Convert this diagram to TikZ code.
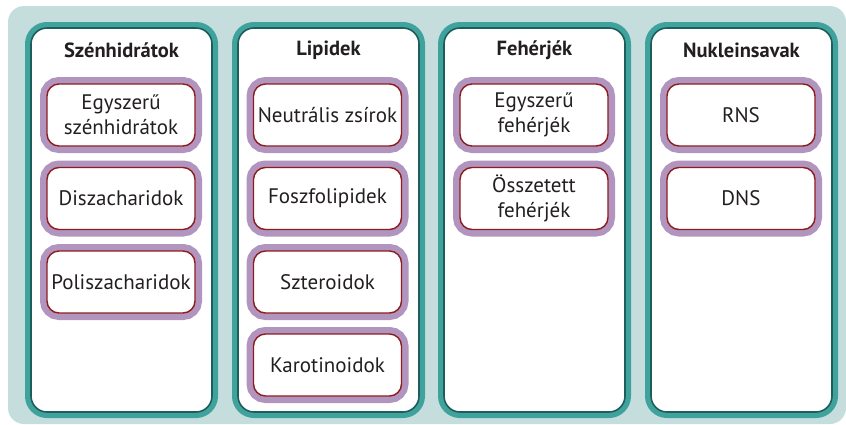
\documentclass[tikz,border=0pt]{standalone}
\usepackage{fontspec}
\setmainfont{PT Sans}
\definecolor{bgteal}{HTML}{C5DEDD}
\definecolor{bandteal}{HTML}{3FA29D}
\definecolor{lineteal}{HTML}{1E5E5A}
\definecolor{itempurple}{HTML}{B195BF}
\definecolor{itemred}{HTML}{8E1B1E}
\definecolor{txt}{HTML}{231F20}
\tikzset{
  colbox/.style={preaction={draw=bandteal,line width=12pt},
    draw=lineteal, line width=1.6pt, fill=white, rounded corners=16pt,
    minimum width=181pt, minimum height=384pt, inner sep=0pt},
  itembox/.style={preaction={draw=itempurple,line width=14pt},
    draw=itemred, line width=1.4pt, fill=white, rounded corners=12pt,
    minimum width=148pt, minimum height=62pt, inner sep=0pt,
    align=center, text=txt, font=\fontsize{21}{24.5}\selectfont},
  coltitle/.style={text=txt, font=\bfseries\fontsize{20.5}{24}\selectfont}
}
\begin{document}
\begin{tikzpicture}[x=1pt,y=-1pt]
\useasboundingbox (0,0) rectangle (846,424);
\fill[bgteal, rounded corners=16pt] (8,6) rectangle (846,424);
% columns
\foreach \cx/\nm in {121.5/c1, 328.5/c2, 534.5/c3, 741.5/c4}{
  \node[colbox] (\nm) at (\cx,220) {};
}
\node[coltitle] (t1) at (121.5,50) {Szénhidrátok};
\node[coltitle] (t2) at (328.5,50) {Lipidek};
\node[coltitle] (t3) at (534.5,50) {Fehérjék};
\node[coltitle] (t4) at (741.5,50) {Nukleinsavak};
% items
\node[itembox] (c1a) at (121,115) {Egyszerű\\szénhidrátok};
\node[itembox] (c1b) at (121,198.5) {Diszacharidok};
\node[itembox] (c1c) at (121,282) {Poliszacharidok};
\node[itembox] (c2a) at (327.5,115) {Neutrális zsírok};
\node[itembox] (c2b) at (327.5,198.5) {Foszfolipidek};
\node[itembox] (c2c) at (327.5,282) {Szteroidok};
\node[itembox] (c2d) at (327.5,365) {Karotinoidok};
\node[itembox] (c3a) at (534,115) {Egyszerű\\fehérjék};
\node[itembox] (c3b) at (534,198.5) {Összetett\\fehérjék};
\node[itembox] (c4a) at (741,115) {RNS};
\node[itembox] (c4b) at (741,198.5) {DNS};
\end{tikzpicture}
\end{document}
